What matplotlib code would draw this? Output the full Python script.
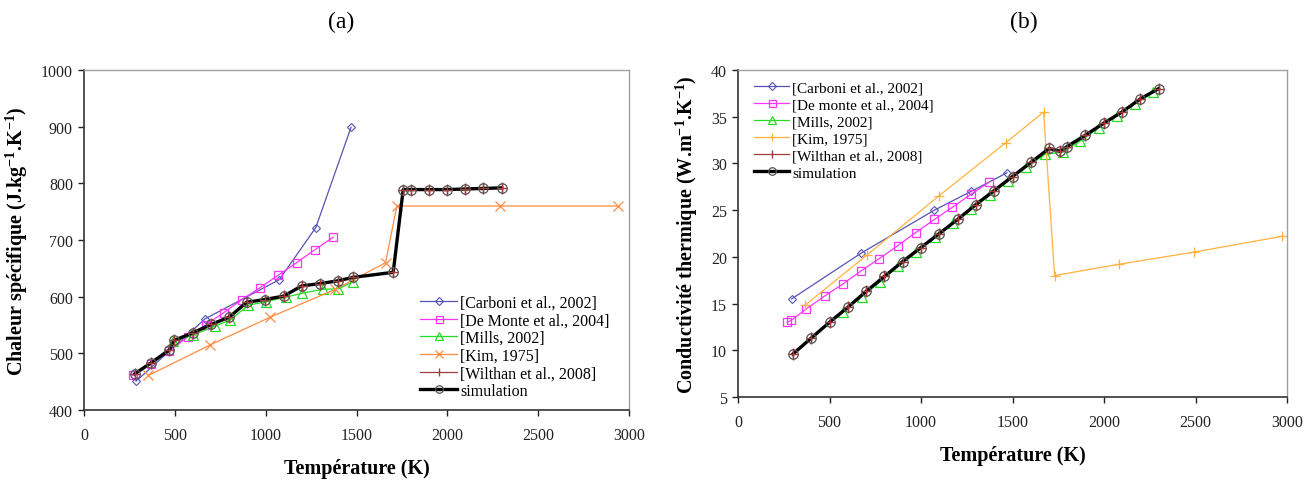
import matplotlib
matplotlib.use("Agg")
import matplotlib.pyplot as plt

plt.rcParams['font.family'] = ['Liberation Serif', 'DejaVu Serif']
plt.rcParams['mathtext.fontset'] = 'custom'
plt.rcParams['mathtext.rm'] = 'Liberation Serif'
plt.rcParams['mathtext.bf'] = 'Liberation Serif:bold'
plt.rcParams['mathtext.it'] = 'Liberation Serif:italic'

# ---------------- (a) specific heat ----------------
cp_carboni_T = [287, 667, 1075, 1276, 1470]
cp_carboni = [451, 561, 630, 722, 899]

cp_demonte_T = [268, 370, 470, 570, 670, 770, 870, 970, 1070, 1170, 1272, 1372]
cp_demonte = [461, 482, 504, 529, 550, 572, 595, 616, 638, 660, 683, 705]

cp_mills_T = [490, 600, 720, 805, 905, 1000, 1110, 1200, 1315, 1400, 1480]
cp_mills = [521, 532, 548, 559, 585, 591, 599, 606, 613, 614, 626]

cp_kim_T = [355, 695, 1026, 1384, 1660, 1722, 2288, 2937]
cp_kim = [461, 515, 564, 613, 660, 760, 760, 760]

cp_sim_T = [280, 368, 470, 497, 598, 700, 800, 895, 995, 1100, 1198, 1298, 1397, 1481,
            1702, 1757, 1798, 1897, 1997, 2098, 2198, 2299]
cp_sim = [464, 483, 506, 523, 536, 551, 564, 590, 595, 601, 619, 623, 628, 634,
          643, 789, 789, 789, 789, 790, 791, 792]
cp_wilthan_T = cp_sim_T
cp_wilthan = cp_sim

# ---------------- (b) thermal conductivity ----------------
k_carboni_T = [293, 673, 1073, 1273, 1470]
k_carboni = [15.5, 20.4, 25.0, 27.0, 29.0]

k_demonte_T = [269, 291, 371, 473, 573, 673, 771, 873, 971, 1073, 1171, 1273, 1373]
k_demonte = [13.0, 13.2, 14.4, 15.8, 17.1, 18.5, 19.8, 21.2, 22.6, 24.0, 25.3, 26.7, 28.0]

k_mills_T = [575, 675, 775, 875, 975, 1075, 1175, 1275, 1375, 1475, 1575, 1680, 1775,
             1870, 1970, 2070, 2170, 2270]
k_mills = [14.1, 15.75, 17.3, 19.0, 20.5, 22.1, 23.6, 25.1, 26.6, 28.1, 29.6, 31.0, 31.2,
           32.4, 33.8, 35.1, 36.4, 37.6]

k_kim_T = [365, 705, 1096, 1462, 1670, 1730, 2080, 2490, 2973]
k_kim = [14.8, 20.2, 26.5, 32.2, 35.5, 18.0, 19.2, 20.5, 22.2]

k_sim_T = [300, 400, 500, 600, 700, 800, 900, 1000, 1100, 1200, 1300, 1400, 1500, 1600,
           1700, 1762, 1797, 1897, 1998, 2098, 2198, 2298]
k_sim = [9.6, 11.3, 13.0, 14.6, 16.3, 17.9, 19.5, 21.0, 22.5, 24.0, 25.6, 27.1, 28.6, 30.1,
         31.6, 31.3, 31.8, 33.0, 34.3, 35.5, 36.9, 38.0]
k_wilthan_T = k_sim_T
k_wilthan = k_sim

labels_a = ['[Carboni et al., 2002]', '[De Monte et al., 2004]', '[Mills, 2002]',
            '[Kim, 1975]', '[Wilthan et al., 2008]', 'simulation']
labels_b = ['[Carboni et al., 2002]', '[De monte et al., 2004]', '[Mills, 2002]',
            '[Kim, 1975]', '[Wilthan et al., 2008]', 'simulation']

C_CARB = '#5454b4'
C_DEM = '#ff33ff'
C_MILLS = '#22dd22'
C_KIM_A = '#ff8c42'
C_KIM_B = '#ffb23e'
C_WIL = '#a03c3c'

fig = plt.figure(figsize=(13.14, 4.81), dpi=100)
axA = fig.add_axes([84 / 1314, 1 - 411 / 481, 545 / 1314, 340 / 481])
axB = fig.add_axes([738 / 1314, 1 - 398 / 481, 549 / 1314, 327 / 481])


def draw(ax, data, labels, kim_color, kim_marker):
    (cT, c), (dT, d), (mT, m), (kT, k), (wT, w), (sT, s) = data
    ax.plot(cT, c, color=C_CARB, lw=0.9, marker='D', ms=4.5, mfc='none', mec=C_CARB,
            mew=0.8, label=labels[0], zorder=2)
    ax.plot(dT, d, color=C_DEM, lw=0.9, marker='s', ms=6.3, mfc='none', mec=C_DEM,
            mew=0.9, label=labels[1], zorder=2)
    ax.plot(mT, m, color=C_MILLS, lw=0.9, marker='^', ms=6.5, mfc='none', mec=C_MILLS,
            mew=0.9, label=labels[2], zorder=2)
    ax.plot(kT, k, color=kim_color, lw=0.9, marker=kim_marker, ms=6.5, mfc='none',
            mec=kim_color, mew=0.9, label=labels[3], zorder=2)
    ax.plot(wT, w, color=C_WIL, lw=0.9, marker='|', ms=8, mew=1.0, label=labels[4],
            zorder=2)
    ax.plot(sT, s, color='black', lw=2.4, marker='o', ms=6.8, mfc='none', mec='#555555',
            mew=0.9, label=labels[5], zorder=3)
    ax.plot(wT, w, ls='none', marker='+', ms=6.5, mec=C_WIL, mew=1.0, zorder=4)


draw(axA, [(cp_carboni_T, cp_carboni), (cp_demonte_T, cp_demonte), (cp_mills_T, cp_mills),
           (cp_kim_T, cp_kim), (cp_wilthan_T, cp_wilthan), (cp_sim_T, cp_sim)],
     labels_a, C_KIM_A, 'x')
draw(axB, [(k_carboni_T, k_carboni), (k_demonte_T, k_demonte), (k_mills_T, k_mills),
           (k_kim_T, k_kim), (k_wilthan_T, k_wilthan), (k_sim_T, k_sim)],
     labels_b, C_KIM_B, '+')

axA.set_xlim(0, 3000)
axA.set_ylim(400, 1000)
axA.set_xticks(range(0, 3001, 500))
axA.set_yticks(range(400, 1001, 100))
axB.set_xlim(0, 3000)
axB.set_ylim(5, 40)
axB.set_xticks(range(0, 3001, 500))
axB.set_yticks(range(5, 41, 5))

for ax in (axA, axB):
    ax.tick_params(direction='out', length=4, width=1, labelsize=11.5, colors='#222222',
                   pad=4)
    ax.tick_params(axis='x', pad=8)
    for sp in ('left', 'bottom'):
        ax.spines[sp].set_color('#333333')
        ax.spines[sp].set_linewidth(1.2)
    for sp in ('top', 'right'):
        ax.spines[sp].set_color('#a0a0a0')
        ax.spines[sp].set_linewidth(1.0)
    ax.set_xlabel('Température (K)', fontsize=14.5, fontweight='bold', labelpad=11)

axA.set_ylabel(r'Chaleur spécifique (J.kg$^{\mathbf{-1}}$.K$^{\mathbf{-1}}$)', fontsize=14.5,
               fontweight='bold', labelpad=8)
axB.set_ylabel(r'Conductivité thermique (W.m$^{\mathbf{-1}}$.K$^{\mathbf{-1}}$)', fontsize=14.5,
               fontweight='bold', labelpad=8)

legkw = dict(frameon=False, handlelength=2.3, handletextpad=0.2,
             borderpad=0.2, markerscale=0.8)
axA.legend(loc='lower right', bbox_to_anchor=(0.985, 0.0), fontsize=11.5,
           labelspacing=0.1, **legkw)
axB.legend(loc='upper left', bbox_to_anchor=(0.01, 1.0), fontsize=11,
           labelspacing=0.22, **legkw)

fig.text(341 / 1314, 1 - 22 / 481, '(a)', ha='center', va='center', fontsize=17)
fig.text(1024 / 1314, 1 - 22 / 481, '(b)', ha='center', va='center', fontsize=17)

fig.savefig('out.png', dpi=100)
